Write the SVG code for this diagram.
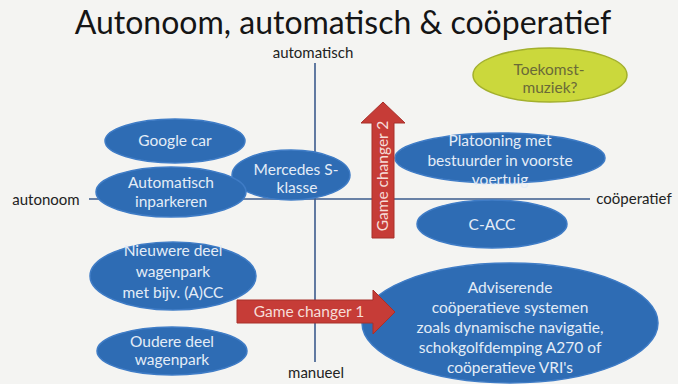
<svg xmlns="http://www.w3.org/2000/svg" width="678" height="384" viewBox="0 0 678 384">
<defs>
<style>
.bg{fill:#f4f4f2}
.title{font-family:"Lato","Liberation Sans",sans-serif;font-size:32px;fill:#151515;text-anchor:middle}
.ax{stroke:#3b5b8c;stroke-width:1.6;fill:none}
.axl{font-family:"Lato","Liberation Sans",sans-serif;font-size:15px;fill:#222;text-anchor:middle}
.blue{fill:#2e6cb4;stroke:#3f7cc6;stroke-width:1.5}
.yel{fill:#cbd83c;stroke:#a3b02c;stroke-width:1.5}
.nt{font-family:"Lato","Liberation Sans",sans-serif;font-size:15.5px;fill:#e4ecf7;text-anchor:middle}
.yt{font-family:"Lato","Liberation Sans",sans-serif;font-size:15.5px;fill:#6a6a38;text-anchor:middle}
.red{fill:#c63c37;stroke:#a8302b;stroke-width:1}
.rt{font-family:"Lato","Liberation Sans",sans-serif;font-size:15.5px;fill:#f6dcd8;text-anchor:middle}
</style>
</defs>
<rect class="bg" x="0" y="0" width="678" height="384"/>
<text class="title" x="343" y="34">Autonoom, automatisch &amp; coöperatief</text>
<g id="connectors">
<line class="ax" x1="315" y1="63" x2="315" y2="362"/>
<line class="ax" x1="89" y1="199" x2="590" y2="199"/>
</g>
<g id="axis-labels">
<text class="axl" x="313" y="58">automatisch</text>
<text class="axl" x="316" y="378">manueel</text>
<text class="axl" x="46" y="205">autonoom</text>
<text class="axl" x="634" y="204">coöperatief</text>
</g>
<g id="google-car">
<ellipse class="blue" cx="175" cy="141" rx="70" ry="22"/>
<text class="nt" x="175" y="146">Google car</text>
</g>
<g id="mercedes">
<ellipse class="blue" cx="291" cy="175" rx="59" ry="25"/>
<text class="nt" x="296" y="175">Mercedes S-</text>
<text class="nt" x="297" y="193">klasse</text>
</g>
<g id="automatisch-inparkeren">
<ellipse class="blue" cx="171" cy="192" rx="75" ry="25"/>
<text class="nt" x="171" y="188">Automatisch</text>
<text class="nt" x="171" y="207">inparkeren</text>
</g>
<g id="toekomstmuziek">
<ellipse class="yel" cx="550" cy="75" rx="77" ry="27"/>
<text class="yt" x="549" y="75">Toekomst-</text>
<text class="yt" x="550" y="93">muziek?</text>
</g>
<g id="platooning">
<ellipse class="blue" cx="500" cy="158" rx="105" ry="25"/>
<text class="nt" x="500" y="146">Platooning met</text>
<text class="nt" x="500" y="166">bestuurder in voorste</text>
<text class="nt" x="500" y="185">voertuig</text>
</g>
<g id="c-acc">
<ellipse class="blue" cx="492" cy="224" rx="75" ry="24"/>
<text class="nt" x="492" y="230">C-ACC</text>
</g>
<g id="nieuwere">
<ellipse class="blue" cx="173" cy="276" rx="83" ry="34"/>
<text class="nt" x="173" y="256">Nieuwere deel</text>
<text class="nt" x="173" y="277">wagenpark</text>
<text class="nt" x="173" y="298">met bijv. (A)CC</text>
</g>
<g id="oudere">
<ellipse class="blue" cx="172" cy="351" rx="75" ry="24"/>
<text class="nt" x="172" y="347">Oudere deel</text>
<text class="nt" x="172" y="365">wagenpark</text>
</g>
<g id="adviserende">
<ellipse class="blue" cx="510" cy="323" rx="148" ry="60"/>
<text class="nt" x="510" y="293">Adviserende</text>
<text class="nt" x="510" y="313">coöperatieve systemen</text>
<text class="nt" x="510" y="333">zoals dynamische navigatie,</text>
<text class="nt" x="510" y="353">schokgolfdemping A270 of</text>
<text class="nt" x="510" y="373">coöperatieve VRI's</text>
</g>
<g id="game-changer-2">
<path class="red" d="M372,238 V123 H361 L383,102 L405,123 H394 V238 Z"/>
<text class="rt" transform="rotate(-90 383 176)" x="383" y="181">Game changer 2</text>
</g>
<g id="game-changer-1">
<path class="red" d="M237,300 H373 V290 L395,312 L373,334 V323 H237 Z"/>
<text class="rt" x="309" y="317">Game changer 1</text>
</g>
</svg>
